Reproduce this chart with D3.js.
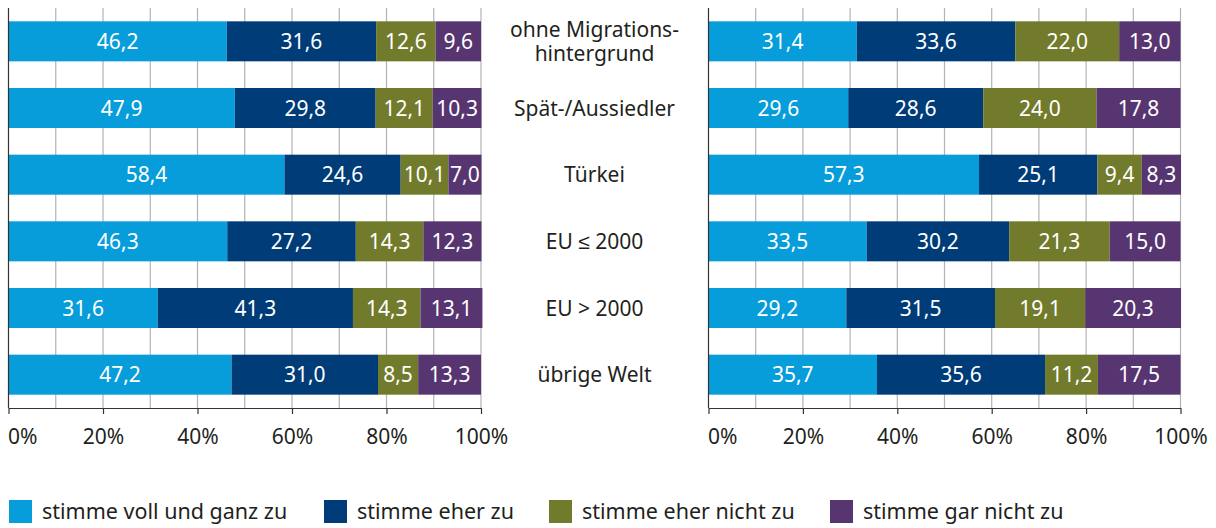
<!DOCTYPE html>
<html>
<head>
<meta charset="utf-8">
<script src="https://cdn.jsdelivr.net/npm/d3@7"></script>
<style>
  html, body { margin: 0; padding: 0; background: #fff; }
  svg { display: block; }
  text { font-family: "Noto Sans", sans-serif; }
</style>
</head>
<body>
<svg id="chart" width="1216" height="528"></svg>
<script>
const categories = ["ohne Migrationshintergrund", "Spät-/Aussiedler", "Türkei", "EU ≤ 2000", "EU > 2000", "übrige Welt"];
const categoryLines = [["ohne Migrations-", "hintergrund"], ["Spät-/Aussiedler"], ["Türkei"], ["EU ≤ 2000"], ["EU > 2000"], ["übrige Welt"]];
const seriesNames = ["stimme voll und ganz zu", "stimme eher zu", "stimme eher nicht zu", "stimme gar nicht zu"];
const colors = ["#069dda", "#003c78", "#727a2b", "#573570"];

const leftVoll  = [46.2, 47.9, 58.4, 46.3, 31.6, 47.2];
const leftEher  = [31.6, 29.8, 24.6, 27.2, 41.3, 31.0];
const leftEherNicht = [12.6, 12.1, 10.1, 14.3, 14.3, 8.5];
const leftGarNicht  = [9.6, 10.3, 7.0, 12.3, 13.1, 13.3];

const rightVoll  = [31.4, 29.6, 57.3, 33.5, 29.2, 35.7];
const rightEher  = [33.6, 28.6, 25.1, 30.2, 31.5, 35.6];
const rightEherNicht = [22.0, 24.0, 9.4, 21.3, 19.1, 11.2];
const rightGarNicht  = [13.0, 17.8, 8.3, 15.0, 20.3, 17.5];

const tickValues = [0, 20, 40, 60, 80, 100];
const gridValues = [10, 20, 30, 40, 50, 60, 70, 80, 90, 100];

const svg = d3.select("#chart");
const plotTop = 8, plotBottom = 408;
const y = d3.scaleBand().domain(categories).range([plotTop, plotBottom]).paddingInner(0.4).paddingOuter(0.2);

const panels = [
  { x0: 8.5, x1: 481, data: [leftVoll, leftEher, leftEherNicht, leftGarNicht] },
  { x0: 708.5, x1: 1180.5, data: [rightVoll, rightEher, rightEherNicht, rightGarNicht] }
];

const fmt = v => d3.format(".1f")(v).replace(".", ",");

panels.forEach(p => {
  const x = d3.scaleLinear().domain([0, 100]).range([p.x0, p.x1]);
  const g = svg.append("g");
  g.selectAll("line.grid").data(gridValues).join("line")
    .attr("x1", d => x(d)).attr("x2", d => x(d))
    .attr("y1", plotTop).attr("y2", plotBottom)
    .attr("stroke", "#b3b3b3").attr("stroke-width", 1.2);
  categories.forEach((c, i) => {
    let cum = 0;
    p.data.forEach((arr, s) => {
      const v = arr[i];
      const xs = x(cum), xe = x(cum + v);
      g.append("rect")
        .attr("x", xs).attr("y", y(c))
        .attr("width", xe - xs).attr("height", y.bandwidth())
        .attr("fill", colors[s]);
      g.append("text")
        .attr("x", (xs + xe) / 2).attr("y", y(c) + y.bandwidth() / 2)
        .attr("dy", "0.36em")
        .attr("text-anchor", "middle")
        .attr("fill", "#fff")
        .attr("font-size", 21)
        .text(fmt(v));
      cum += v;
    });
  });
  g.append("line").attr("x1", x(0)).attr("x2", x(0)).attr("y1", plotTop).attr("y2", plotBottom)
    .attr("stroke", "#333").attr("stroke-width", 1.2);
  const axis = d3.axisBottom(x).tickValues(tickValues).tickSize(6).tickSizeOuter(0).tickFormat(d => d + "%");
  const ag = g.append("g").attr("transform", `translate(0,${plotBottom})`).call(axis);
  ag.select(".domain").attr("stroke", "#333").attr("stroke-width", 1.2);
  ag.selectAll(".tick line").attr("stroke", "#333").attr("stroke-width", 1.2);
  ag.selectAll(".tick text")
    .attr("font-family", "Noto Sans, sans-serif")
    .attr("font-size", 21).attr("fill", "#231f20")
    .attr("y", 36).attr("dy", 0)
    .attr("text-anchor", d => d === 0 ? "start" : "middle")
    .attr("x", d => d === 0 ? -1 : 0);
});

categories.forEach((c, i) => {
  const lines = categoryLines[i];
  const cy = y(c) + y.bandwidth() / 2;
  const t = svg.append("text")
    .attr("x", 594.5).attr("text-anchor", "middle")
    .attr("font-size", 21).attr("fill", "#231f20");
  lines.forEach((l, k) => {
    t.append("tspan").attr("x", 594.5)
      .attr("y", cy + 7.5 + (k - (lines.length - 1) / 2) * 23.5)
      .text(l);
  });
});

const legendX = [9, 324, 549, 830];
seriesNames.forEach((n, i) => {
  svg.append("rect").attr("x", legendX[i]).attr("y", 500).attr("width", 23).attr("height", 23).attr("fill", colors[i]);
  svg.append("text").attr("x", legendX[i] + 33).attr("y", 519)
    .attr("font-size", 21.5).attr("fill", "#231f20").text(n);
});
</script>
</body>
</html>
